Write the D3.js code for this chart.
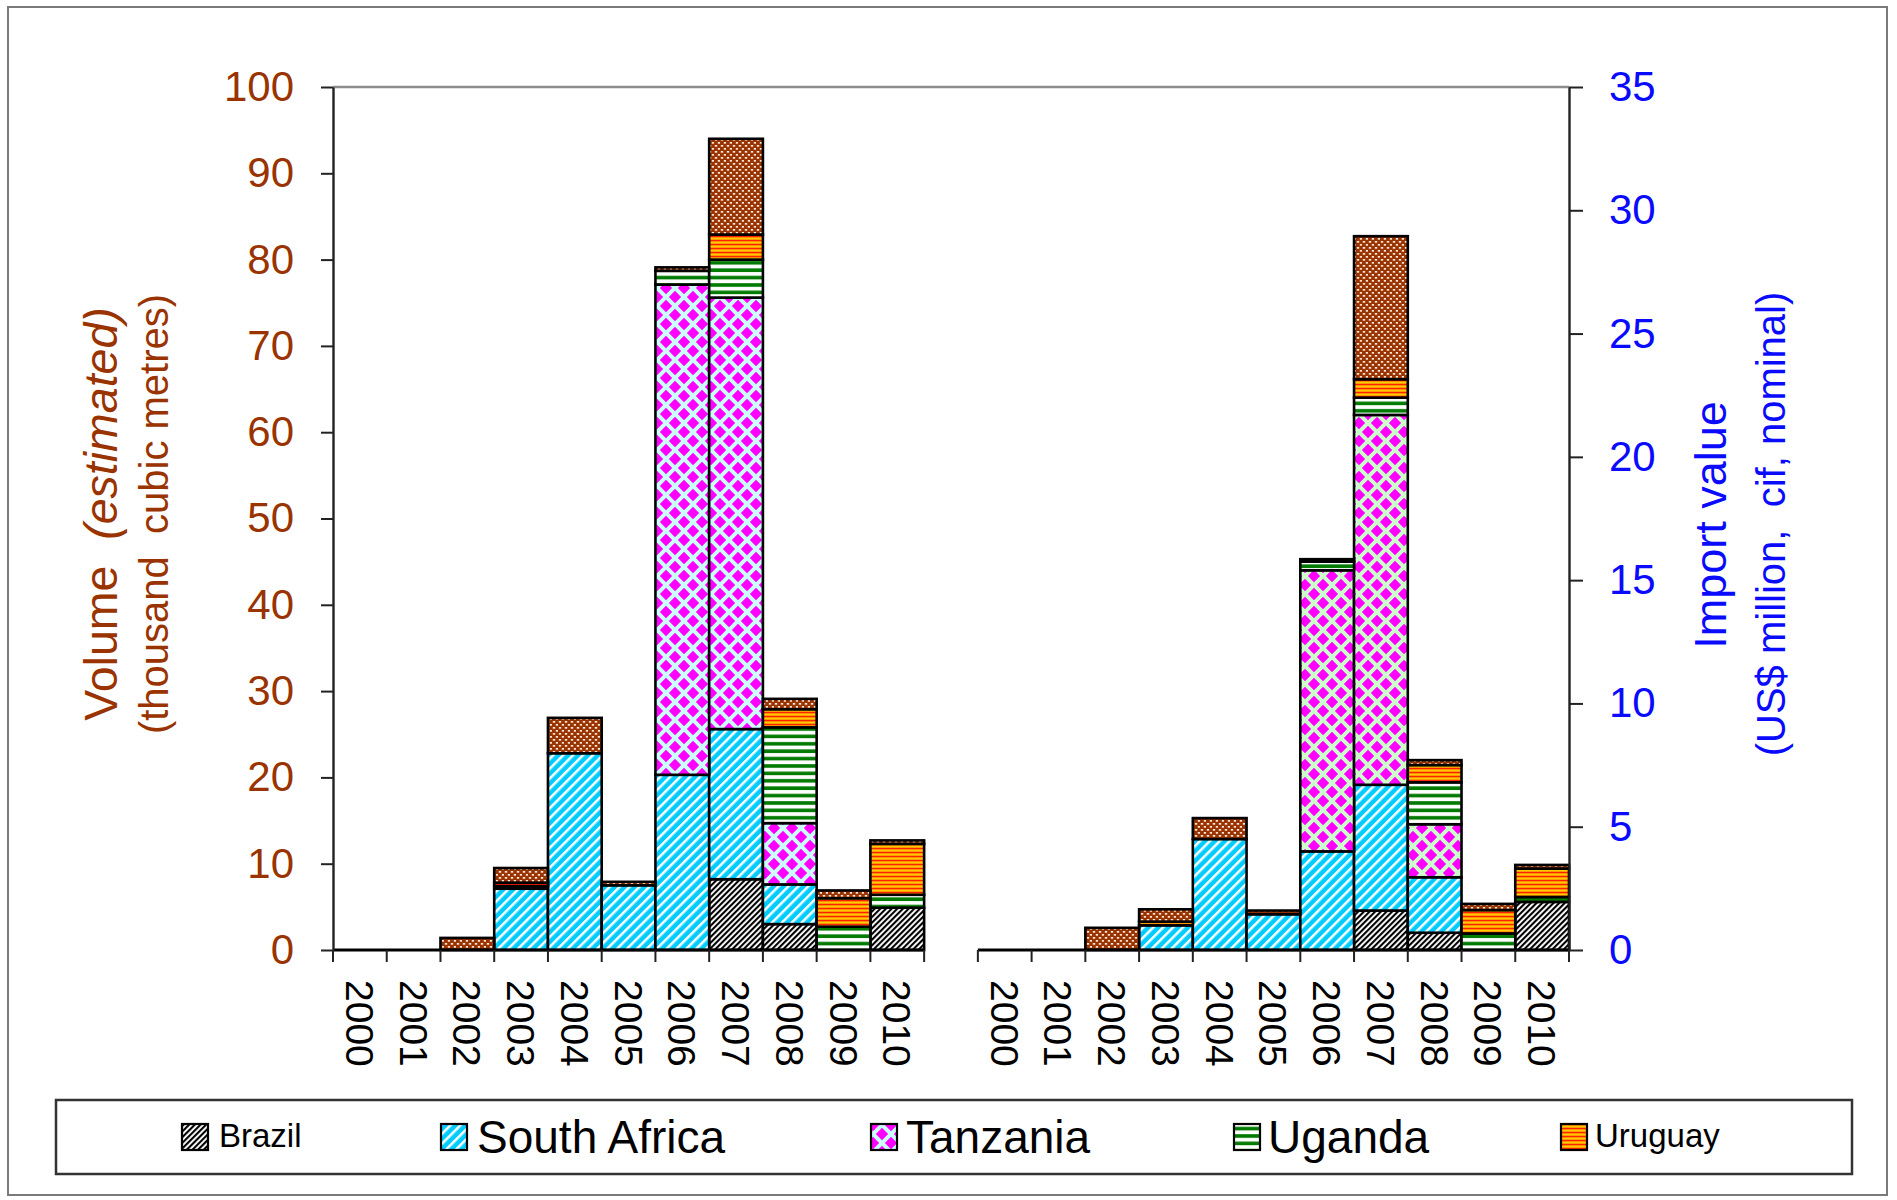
<!DOCTYPE html>
<html>
<head>
<meta charset="utf-8">
<script src="https://cdn.jsdelivr.net/npm/d3@7"></script>
<style>
  html, body { margin: 0; padding: 0; background: #fff; }
  svg { display: block; font-family: "Liberation Sans", Arial, sans-serif; }
</style>
</head>
<body>
<svg id="chart" width="1897" height="1200"></svg>
<script>
// ---- data ----------------------------------------------------------------
const years = [2000, 2001, 2002, 2003, 2004, 2005, 2006, 2007, 2008, 2009, 2010];
const seriesKeys = ["Brazil", "South Africa", "Tanzania", "Uganda", "Uruguay", "Other"];
const legendKeys = ["Brazil", "South Africa", "Tanzania", "Uganda", "Uruguay"];

// Volume, thousand cubic metres (estimated)
const volBrazil      = [0, 0, 0,   0,    0,   0,    0,    8.2,  3.0, 0,    4.9];
const volSouthAfrica = [0, 0, 0,   7.1, 22.8, 7.5, 20.3, 17.4,  4.6, 0,    0];
const volTanzania    = [0, 0, 0,   0,    0,   0,   56.8, 50.0,  7.1, 0,    0];
const volUganda      = [0, 0, 0,   0.3,  0,   0,    1.6,  4.4, 11.1, 2.7,  1.5];
const volUruguay     = [0, 0, 0,   0.4,  0,   0,    0,    2.9,  2.1, 3.3,  5.9];
const volOther       = [0, 0, 1.4, 1.7,  4.1, 0.4,  0.4, 11.1,  1.2, 0.9,  0.4];

// Import value, US$ million (cif, nominal)
const valBrazil      = [0, 0, 0,   0,    0,    0,    0,    1.6,  0.7,  0,    1.95];
const valSouthAfrica = [0, 0, 0,   1.0,  4.5,  1.45, 4.0,  5.1,  2.25, 0,    0];
const valTanzania    = [0, 0, 0,   0,    0,    0,   11.4, 15.0,  2.15, 0,    0];
const valUganda      = [0, 0, 0,   0,    0,    0,    0.35, 0.7,  1.7,  0.67, 0.2];
const valUruguay     = [0, 0, 0,   0.15, 0,    0,    0,    0.75, 0.7,  0.95, 1.15];
const valOther       = [0, 0, 0.9, 0.5,  0.85, 0.15, 0.1,  5.8,  0.2,  0.25, 0.15];

const volTicks = [0, 10, 20, 30, 40, 50, 60, 70, 80, 90, 100];
const valTicks = [0, 5, 10, 15, 20, 25, 30, 35];

// ---- layout --------------------------------------------------------------
const plot = { left: 333, right: 1569, top: 87, bottom: 950 };
const brown = "#993300";
const blue = "#0a0aff";

const svg = d3.select("#chart");

// table rows for the two panels
function buildRows(prefix, cols) {
  return years.map((yr, i) => {
    const row = { slot: prefix + yr, year: yr };
    seriesKeys.forEach((k, j) => { row[k] = cols[j][i]; });
    return row;
  });
}
const volRows = buildRows("v", [volBrazil, volSouthAfrica, volTanzania, volUganda, volUruguay, volOther]);
const valRows = buildRows("d", [valBrazil, valSouthAfrica, valTanzania, valUganda, valUruguay, valOther]);

// one band scale across both panels, with an empty slot between them
const slots = volRows.map(d => d.slot).concat(["gap"], valRows.map(d => d.slot));
const x = d3.scaleBand().domain(slots).range([plot.left, plot.right]).padding(0);
const yVol = d3.scaleLinear().domain([0, 100]).range([plot.bottom, plot.top]);
const yVal = d3.scaleLinear().domain([0, 35]).range([plot.bottom, plot.top]);

// ---- fill patterns -------------------------------------------------------
const defs = svg.append("defs");
function pattern(id, w, h, transform) {
  const p = defs.append("pattern").attr("id", id)
    .attr("patternUnits", "userSpaceOnUse").attr("width", w).attr("height", h);
  if (transform) p.attr("patternTransform", transform);
  return p;
}
let p;
// Brazil: black diagonal hatching
p = pattern("pat-brazil", 4, 4, "rotate(45)");
p.append("rect").attr("width", 4).attr("height", 4).attr("fill", "#fff");
p.append("rect").attr("width", 2.1).attr("height", 4).attr("fill", "#000");
// South Africa: cyan with white diagonals
p = pattern("pat-sa", 7, 7, "rotate(45)");
p.append("rect").attr("width", 7).attr("height", 7).attr("fill", "#00ccff");
p.append("rect").attr("width", 2.5).attr("height", 7).attr("fill", "#fff");
// Tanzania: magenta diamonds (cyan ground on volume side, green ground on value side)
function diamonds(id, ground) {
  const s = 18, h = s / 2, r = 6.2;
  const q = pattern(id, s, s);
  q.append("rect").attr("width", s).attr("height", s).attr("fill", ground);
  [[h, h], [0, 0], [s, 0], [0, s], [s, s]].forEach(([cx, cy]) => {
    q.append("path")
      .attr("d", `M${cx},${cy - r}L${cx + r},${cy}L${cx},${cy + r}L${cx - r},${cy}Z`)
      .attr("fill", "#ff00ff");
  });
}
diamonds("pat-tz-vol", "#ccffff");
diamonds("pat-tz-val", "#ccffcc");
// Uganda: green and white horizontal stripes
p = pattern("pat-ug", 8, 7.4);
p.append("rect").attr("width", 8).attr("height", 7.4).attr("fill", "#fff");
p.append("rect").attr("y", 2).attr("width", 8).attr("height", 3.6).attr("fill", "#007a00");
// Uruguay: orange with red / yellow fine stripes
p = pattern("pat-ur", 8, 4);
p.append("rect").attr("width", 8).attr("height", 4).attr("fill", "#ff9900");
p.append("rect").attr("y", 0).attr("width", 8).attr("height", 1.1).attr("fill", "#ff2200");
p.append("rect").attr("y", 2).attr("width", 8).attr("height", 1).attr("fill", "#ffcc00");
// Other: brown with light dots
p = pattern("pat-other", 6, 6);
p.append("rect").attr("width", 6).attr("height", 6).attr("fill", "#993300");
p.append("rect").attr("x", 0.8).attr("y", 1).attr("width", 2.4).attr("height", 1.7).attr("fill", "#ffe8d8");
p.append("rect").attr("x", 3.8).attr("y", 4).attr("width", 2.4).attr("height", 1.7).attr("fill", "#ffe8d8");

const fillVol = { "Brazil": "url(#pat-brazil)", "South Africa": "url(#pat-sa)", "Tanzania": "url(#pat-tz-vol)",
                  "Uganda": "url(#pat-ug)", "Uruguay": "url(#pat-ur)", "Other": "url(#pat-other)" };
const fillVal = Object.assign({}, fillVol, { "Tanzania": "url(#pat-tz-val)" });

// ---- outer frame ---------------------------------------------------------
svg.append("rect").attr("x", 8).attr("y", 7).attr("width", 1879).attr("height", 1188)
  .attr("fill", "none").attr("stroke", "#7a7a7a").attr("stroke-width", 2);

// top border of plot area
svg.append("line").attr("x1", plot.left).attr("x2", plot.right)
  .attr("y1", plot.top).attr("y2", plot.top)
  .attr("stroke", "#8c8c8c").attr("stroke-width", 2.5);

// ---- stacked bars --------------------------------------------------------
const stack = d3.stack().keys(seriesKeys);
function drawBars(rows, y, fills, cls) {
  const layers = stack(rows);
  const g = svg.append("g").attr("class", cls);
  layers.forEach(layer => {
    g.append("g").selectAll("rect")
      .data(layer.filter(d => d[1] - d[0] > 0))
      .join("rect")
      .attr("x", d => x(d.data.slot))
      .attr("width", x.bandwidth())
      .attr("y", d => y(d[1]))
      .attr("height", d => y(d[0]) - y(d[1]))
      .attr("fill", fills[layer.key])
      .attr("stroke", "#000")
      .attr("stroke-width", 2.6);
  });
}
drawBars(volRows, yVol, fillVol, "bars-volume");
drawBars(valRows, yVal, fillVal, "bars-value");

// ---- category axes (baseline, boundary ticks, rotated year labels) -------
function drawCategoryAxis(rows) {
  const g = svg.append("g");
  const x0 = x(rows[0].slot);
  const x1 = x(rows[rows.length - 1].slot) + x.bandwidth();
  g.append("line").attr("x1", x0).attr("x2", x1)
    .attr("y1", plot.bottom).attr("y2", plot.bottom)
    .attr("stroke", "#000").attr("stroke-width", 2.8);
  const edges = rows.map(d => x(d.slot)).concat([x1]);
  g.selectAll("line.tick").data(edges).join("line").attr("class", "tick")
    .attr("x1", d => d).attr("x2", d => d)
    .attr("y1", plot.bottom).attr("y2", plot.bottom + 12)
    .attr("stroke", "#222").attr("stroke-width", 2);
  g.selectAll("text").data(rows).join("text")
    .attr("transform", d => `translate(${x(d.slot) + x.bandwidth() / 2 - 14},980) rotate(90)`)
    .attr("font-size", 39).attr("fill", "#000")
    .text(d => d.year);
}
drawCategoryAxis(volRows);
drawCategoryAxis(valRows);

// ---- value axes ----------------------------------------------------------
const axL = svg.append("g").attr("transform", `translate(${plot.left},0)`)
  .call(d3.axisLeft(yVol).tickValues(volTicks).tickSize(12).tickSizeOuter(0).tickPadding(27));
const axR = svg.append("g").attr("transform", `translate(${plot.right},0)`)
  .call(d3.axisRight(yVal).tickValues(valTicks).tickSize(14).tickSizeOuter(0).tickPadding(26));
[[axL, brown], [axR, blue]].forEach(([ax, col]) => {
  ax.select(".domain").attr("stroke", "#222").attr("stroke-width", 2.4);
  ax.selectAll(".tick line").attr("stroke", "#222").attr("stroke-width", 2);
  ax.selectAll(".tick text").attr("fill", col).attr("font-size", 42)
    .attr("font-family", "'Liberation Sans', Arial, sans-serif");
});

// ---- axis titles ---------------------------------------------------------
const tL1 = svg.append("text").attr("transform", "translate(117,514) rotate(-90)")
  .attr("text-anchor", "middle").attr("font-size", 46.5).attr("fill", brown)
  .style("white-space", "pre");
tL1.append("tspan").text("Volume  ");
tL1.append("tspan").attr("font-style", "italic").text("(estimated)");
svg.append("text").attr("transform", "translate(168,514) rotate(-90)")
  .attr("text-anchor", "middle").attr("font-size", 40).attr("fill", brown)
  .style("white-space", "pre").text("(thousand  cubic metres)");

svg.append("text").attr("transform", "translate(1726,525) rotate(-90)")
  .attr("text-anchor", "middle").attr("font-size", 45).attr("fill", blue)
  .text("Import value");
svg.append("text").attr("transform", "translate(1785,524) rotate(-90)")
  .attr("text-anchor", "middle").attr("font-size", 40).attr("fill", blue)
  .style("white-space", "pre").text("(US$ million,  cif, nominal)");

// ---- legend --------------------------------------------------------------
svg.append("rect").attr("x", 56).attr("y", 1100).attr("width", 1796).attr("height", 74)
  .attr("fill", "#fff").attr("stroke", "#333").attr("stroke-width", 2.5);
const legendLayout = [
  { swatchX: 182,  textX: 219,  size: 33, baseline: 1147 },
  { swatchX: 441,  textX: 477,  size: 46, baseline: 1153 },
  { swatchX: 871,  textX: 906,  size: 46, baseline: 1153 },
  { swatchX: 1234, textX: 1268, size: 46, baseline: 1153 },
  { swatchX: 1561, textX: 1595, size: 33, baseline: 1147 }
];
const lg = svg.append("g").selectAll("g").data(legendKeys).join("g");
lg.append("rect")
  .attr("x", (d, i) => legendLayout[i].swatchX).attr("y", 1124)
  .attr("width", 26).attr("height", 26)
  .attr("fill", d => fillVol[d]).attr("stroke", "#000").attr("stroke-width", 2.2);
lg.append("text")
  .attr("x", (d, i) => legendLayout[i].textX).attr("y", (d, i) => legendLayout[i].baseline)
  .attr("font-size", (d, i) => legendLayout[i].size).attr("fill", "#000")
  .text(d => d);
</script>
</body>
</html>
